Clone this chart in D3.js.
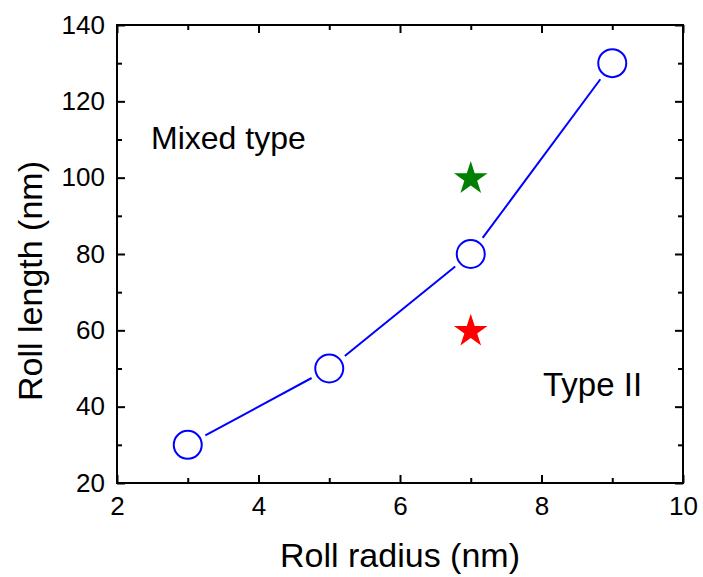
<!DOCTYPE html>
<html>
<head>
<meta charset="utf-8">
<script src="https://cdn.jsdelivr.net/npm/d3@7"></script>
<style>
  body { margin: 0; background: #fff; }
  svg text { font-family: "Liberation Sans", Arial, sans-serif; fill: #000; }
</style>
</head>
<body>
<svg id="chart" width="703" height="577"></svg>
<script>
"use strict";

// ---- data
const radius = [3, 5, 7, 9];
const rollLength = [30, 50, 80, 130];
const starX = [7, 7];
const starY = [100, 60];
const starColor = ["#008000", "#ff0000"];
const xTicks = [2, 4, 6, 8, 10];
const yTicks = [20, 40, 60, 80, 100, 120, 140];

const svg = d3.select("#chart");
const M = {left: 117, top: 25};
const W = 566, H = 458;

const g = svg.append("g").attr("transform", `translate(${M.left},${M.top})`);

const x = d3.scaleLinear().domain([2, 10]).range([0, W]);
const y = d3.scaleLinear().domain([20, 140]).range([H, 0]);

const minorX = d3.range(3, 10, 2), minorY = d3.range(30, 140, 20);

// ---- axes, ticks pointing inward
const styleAxis = sel => {
  sel.select(".domain").remove();
  sel.selectAll("line").attr("stroke", "#000").attr("stroke-width", 2);
  sel.selectAll("text").style("font-size", "26px");
};

g.append("g").attr("transform", `translate(0,${y(20)})`)
  .call(d3.axisBottom(x).tickValues(xTicks).tickSize(-8).tickPadding(14).tickFormat(d3.format("d")))
  .call(styleAxis);
g.append("g").attr("transform", `translate(0,${y(20)})`)
  .call(d3.axisBottom(x).tickValues(minorX).tickSize(-5).tickFormat(""))
  .call(styleAxis);
g.append("g").attr("transform", `translate(0,${y(140)})`)
  .call(d3.axisTop(x).tickValues(xTicks).tickSize(-8).tickFormat(""))
  .call(styleAxis);
g.append("g").attr("transform", `translate(0,${y(140)})`)
  .call(d3.axisTop(x).tickValues(minorX).tickSize(-5).tickFormat(""))
  .call(styleAxis);

g.append("g").attr("transform", `translate(${x(2)},0)`)
  .call(d3.axisLeft(y).tickValues(yTicks).tickSize(-8).tickPadding(12))
  .call(styleAxis);
g.append("g").attr("transform", `translate(${x(2)},0)`)
  .call(d3.axisLeft(y).tickValues(minorY).tickSize(-5).tickFormat(""))
  .call(styleAxis);
g.append("g").attr("transform", `translate(${x(10)},0)`)
  .call(d3.axisRight(y).tickValues(yTicks).tickSize(-8).tickFormat(""))
  .call(styleAxis);
g.append("g").attr("transform", `translate(${x(10)},0)`)
  .call(d3.axisRight(y).tickValues(minorY).tickSize(-5).tickFormat(""))
  .call(styleAxis);

// frame
g.append("rect").attr("x", x(2)).attr("y", y(140))
  .attr("width", x(10) - x(2)).attr("height", y(20) - y(140))
  .attr("fill", "none").attr("stroke", "#000").attr("stroke-width", 2);

// ---- axis titles
g.append("text").attr("x", 400 - M.left).attr("y", 567 - M.top)
  .attr("text-anchor", "middle").style("font-size", "34px").text("Roll radius (nm)");
g.append("text").attr("transform", "rotate(-90)")
  .attr("x", -(281 - M.top)).attr("y", 42 - M.left)
  .attr("text-anchor", "middle").style("font-size", "34px").text("Roll length (nm)");

// ---- line segments with gaps around the circles
const pts = radius.map((r, i) => [x(r), y(rollLength[i])]);
const gap = 20;
for (let i = 0; i < pts.length - 1; i++) {
  const [x0, y0] = pts[i], [x1, y1] = pts[i + 1];
  const L = Math.hypot(x1 - x0, y1 - y0), ux = (x1 - x0) / L, uy = (y1 - y0) / L;
  g.append("line")
    .attr("x1", x0 + ux * gap).attr("y1", y0 + uy * gap)
    .attr("x2", x1 - ux * gap).attr("y2", y1 - uy * gap)
    .attr("stroke", "#0000ff").attr("stroke-width", 2);
}

g.selectAll("circle.pt").data(pts).enter().append("circle").attr("class", "pt")
  .attr("cx", d => d[0]).attr("cy", d => d[1]).attr("r", 14)
  .attr("fill", "#fff").attr("stroke", "#0000ff").attr("stroke-width", 2);

// ---- stars
const star = d3.symbol().type(d3.symbolStar).size(350);
g.selectAll("path.star").data(starX).enter().append("path").attr("class", "star")
  .attr("transform", (d, i) => `translate(${x(d)},${y(starY[i]) + 1})`)
  .attr("d", star).attr("fill", (d, i) => starColor[i]);

// ---- region labels
g.append("text").attr("x", 151 - M.left).attr("y", 149 - M.top)
  .style("font-size", "32px").text("Mixed type");
g.append("text").attr("x", 543 - M.left).attr("y", 396 - M.top)
  .style("font-size", "33px").text("Type II");
</script>
</body>
</html>
